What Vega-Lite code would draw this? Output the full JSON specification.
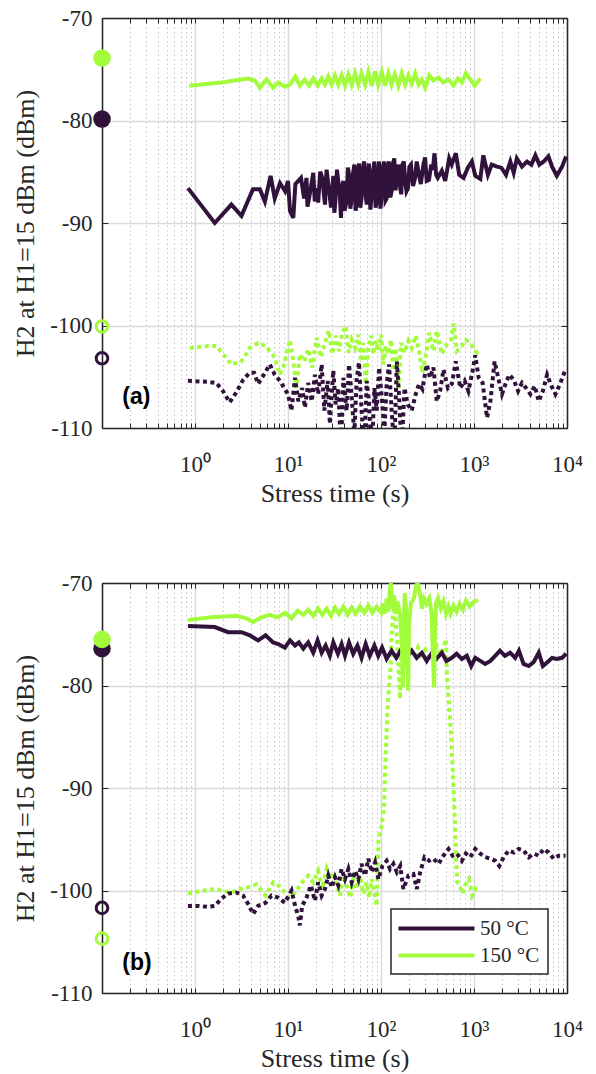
{
"$schema": "https://vega.github.io/schema/vega-lite/v6.json",
"padding": {"left": 12, "top": 7, "right": 10, "bottom": 5},
"spacing": 66,
"background": "white",
"config": {
 "view": {"stroke": null},
 "font": "Liberation Serif",
 "axis": {"labelFont": "Liberation Serif", "labelFontSize": 23, "labelColor": "#262626", "titleFont": "Liberation Serif", "titleFontSize": 26, "titleFontWeight": "normal", "titleColor": "#262626", "domainColor": "#262626", "domainWidth": 1.5, "tickColor": "#262626", "tickWidth": 1},
 "legend": {"strokeWidth": 1.5}
},
"resolve": {"legend": {"color": "independent"}},
"datasets": {
"pts": [
{"panel":"a","temp":"150 °C","fill":"filled","t":0.1,"v":-73.9},
{"panel":"a","temp":"50 °C","fill":"filled","t":0.1,"v":-79.85},
{"panel":"a","temp":"150 °C","fill":"hollow","t":0.1,"v":-100.1},
{"panel":"a","temp":"50 °C","fill":"hollow","t":0.1,"v":-103.2},
{"panel":"b","temp":"50 °C","fill":"filled","t":0.1,"v":-76.4},
{"panel":"b","temp":"150 °C","fill":"filled","t":0.1,"v":-75.5},
{"panel":"b","temp":"50 °C","fill":"hollow","t":0.1,"v":-101.7},
{"panel":"b","temp":"150 °C","fill":"hollow","t":0.1,"v":-104.7}
],
"lbl": [
{"panel":"a","t":0.165,"v":-107,"label":"(a)"},
{"panel":"b","t":0.165,"v":-107.1,"label":"(b)"}
],
"lines": [
{"panel":"a","temp":"150 °C","style":"dotted","t":0.88,"v":-102.2},
{"panel":"a","temp":"150 °C","style":"dotted","t":1.38,"v":-102.0},
{"panel":"a","temp":"150 °C","style":"dotted","t":1.7,"v":-102.0},
{"panel":"a","temp":"150 °C","style":"dotted","t":2.0,"v":-102.8},
{"panel":"a","temp":"150 °C","style":"dotted","t":2.46,"v":-103.8},
{"panel":"a","temp":"150 °C","style":"dotted","t":3.16,"v":-103.5},
{"panel":"a","temp":"150 °C","style":"dotted","t":3.88,"v":-102.2},
{"panel":"a","temp":"150 °C","style":"dotted","t":4.77,"v":-101.7},
{"panel":"a","temp":"150 °C","style":"dotted","t":5.73,"v":-102.0},
{"panel":"a","temp":"150 °C","style":"dotted","t":7.2,"v":-103.1},
{"panel":"a","temp":"150 °C","style":"dotted","t":8.2,"v":-104.8},
{"panel":"a","temp":"150 °C","style":"dotted","t":9.1,"v":-103.8},
{"panel":"a","temp":"150 °C","style":"dotted","t":10.5,"v":-101.4},
{"panel":"a","temp":"150 °C","style":"dotted","t":11.4,"v":-103.5},
{"panel":"a","temp":"150 °C","style":"dotted","t":12.3,"v":-106.1},
{"panel":"a","temp":"150 °C","style":"dotted","t":13.4,"v":-102.8},
{"panel":"a","temp":"150 °C","style":"dotted","t":15,"v":-103.5},
{"panel":"a","temp":"150 °C","style":"dotted","t":16.5,"v":-102.3},
{"panel":"a","temp":"150 °C","style":"dotted","t":18.2,"v":-104.1},
{"panel":"a","temp":"150 °C","style":"dotted","t":20.3,"v":-101.2},
{"panel":"a","temp":"150 °C","style":"dotted","t":22.6,"v":-103.1},
{"panel":"a","temp":"150 °C","style":"dotted","t":25,"v":-101.7},
{"panel":"a","temp":"150 °C","style":"dotted","t":27.5,"v":-100.5},
{"panel":"a","temp":"150 °C","style":"dotted","t":29.9,"v":-102.8},
{"panel":"a","temp":"150 °C","style":"dotted","t":32.5,"v":-101.0},
{"panel":"a","temp":"150 °C","style":"dotted","t":35.3,"v":-102.5},
{"panel":"a","temp":"150 °C","style":"dotted","t":38.4,"v":-100.7},
{"panel":"a","temp":"150 °C","style":"dotted","t":41.7,"v":-100.05},
{"panel":"a","temp":"150 °C","style":"dotted","t":44.6,"v":-102.65},
{"panel":"a","temp":"150 °C","style":"dotted","t":48.4,"v":-101.4},
{"panel":"a","temp":"150 °C","style":"dotted","t":52.6,"v":-102.2},
{"panel":"a","temp":"150 °C","style":"dotted","t":57,"v":-100.9},
{"panel":"a","temp":"150 °C","style":"dotted","t":61,"v":-103.5},
{"panel":"a","temp":"150 °C","style":"dotted","t":64.6,"v":-101.7},
{"panel":"a","temp":"150 °C","style":"dotted","t":68.4,"v":-105.7},
{"panel":"a","temp":"150 °C","style":"dotted","t":73.1,"v":-102.2},
{"panel":"a","temp":"150 °C","style":"dotted","t":78.2,"v":-101.0},
{"panel":"a","temp":"150 °C","style":"dotted","t":82.8,"v":-102.8},
{"panel":"a","temp":"150 °C","style":"dotted","t":87.8,"v":-101.5},
{"panel":"a","temp":"150 °C","style":"dotted","t":93.8,"v":-102.5},
{"panel":"a","temp":"150 °C","style":"dotted","t":100.4,"v":-100.9},
{"panel":"a","temp":"150 °C","style":"dotted","t":106,"v":-103.8},
{"panel":"a","temp":"150 °C","style":"dotted","t":112,"v":-102.0},
{"panel":"a","temp":"150 °C","style":"dotted","t":120,"v":-102.8},
{"panel":"a","temp":"150 °C","style":"dotted","t":128,"v":-101.4},
{"panel":"a","temp":"150 °C","style":"dotted","t":136,"v":-104.4},
{"panel":"a","temp":"150 °C","style":"dotted","t":144,"v":-102.2},
{"panel":"a","temp":"150 °C","style":"dotted","t":154,"v":-106.1},
{"panel":"a","temp":"150 °C","style":"dotted","t":164,"v":-101.7},
{"panel":"a","temp":"150 °C","style":"dotted","t":179,"v":-102.65},
{"panel":"a","temp":"150 °C","style":"dotted","t":197,"v":-101.5},
{"panel":"a","temp":"150 °C","style":"dotted","t":214,"v":-102.2},
{"panel":"a","temp":"150 °C","style":"dotted","t":236,"v":-101.0},
{"panel":"a","temp":"150 °C","style":"dotted","t":257,"v":-102.5},
{"panel":"a","temp":"150 °C","style":"dotted","t":279,"v":-104.6},
{"panel":"a","temp":"150 °C","style":"dotted","t":302,"v":-103.1},
{"panel":"a","temp":"150 °C","style":"dotted","t":329,"v":-100.7},
{"panel":"a","temp":"150 °C","style":"dotted","t":366,"v":-102.5},
{"panel":"a","temp":"150 °C","style":"dotted","t":398,"v":-100.5},
{"panel":"a","temp":"150 °C","style":"dotted","t":451,"v":-102.8},
{"panel":"a","temp":"150 °C","style":"dotted","t":511,"v":-101.8},
{"panel":"a","temp":"150 °C","style":"dotted","t":568,"v":-101.4},
{"panel":"a","temp":"150 °C","style":"dotted","t":602,"v":-99.8},
{"panel":"a","temp":"150 °C","style":"dotted","t":654,"v":-102.5},
{"panel":"a","temp":"150 °C","style":"dotted","t":741,"v":-102.0},
{"panel":"a","temp":"150 °C","style":"dotted","t":818,"v":-101.4},
{"panel":"a","temp":"150 °C","style":"dotted","t":933,"v":-101.8},
{"panel":"a","temp":"150 °C","style":"dotted","t":1075,"v":-102.65},
{"panel":"a","temp":"150 °C","style":"dotted","t":1169,"v":-102.3},
{"panel":"a","temp":"50 °C","style":"dotted","t":0.84,"v":-105.4},
{"panel":"a","temp":"50 °C","style":"dotted","t":1.38,"v":-105.5},
{"panel":"a","temp":"50 °C","style":"dotted","t":1.7,"v":-105.6},
{"panel":"a","temp":"50 °C","style":"dotted","t":2.0,"v":-106.4},
{"panel":"a","temp":"50 °C","style":"dotted","t":2.36,"v":-107.5},
{"panel":"a","temp":"50 °C","style":"dotted","t":2.79,"v":-106.5},
{"panel":"a","temp":"50 °C","style":"dotted","t":3.29,"v":-105.3},
{"panel":"a","temp":"50 °C","style":"dotted","t":3.88,"v":-104.6},
{"panel":"a","temp":"50 °C","style":"dotted","t":4.32,"v":-104.6},
{"panel":"a","temp":"50 °C","style":"dotted","t":4.77,"v":-105.7},
{"panel":"a","temp":"50 °C","style":"dotted","t":5.41,"v":-104.9},
{"panel":"a","temp":"50 °C","style":"dotted","t":6.38,"v":-103.8},
{"panel":"a","temp":"50 °C","style":"dotted","t":7.2,"v":-104.8},
{"panel":"a","temp":"50 °C","style":"dotted","t":8.2,"v":-105.4},
{"panel":"a","temp":"50 °C","style":"dotted","t":9.1,"v":-106.1},
{"panel":"a","temp":"50 °C","style":"dotted","t":10,"v":-106.7},
{"panel":"a","temp":"50 °C","style":"dotted","t":10.9,"v":-108.3},
{"panel":"a","temp":"50 °C","style":"dotted","t":11.9,"v":-105.1},
{"panel":"a","temp":"50 °C","style":"dotted","t":12.9,"v":-107.4},
{"panel":"a","temp":"50 °C","style":"dotted","t":14.2,"v":-106.1},
{"panel":"a","temp":"50 °C","style":"dotted","t":15.2,"v":-108.0},
{"panel":"a","temp":"50 °C","style":"dotted","t":16.5,"v":-105.6},
{"panel":"a","temp":"50 °C","style":"dotted","t":18,"v":-107.4},
{"panel":"a","temp":"50 °C","style":"dotted","t":19.5,"v":-104.8},
{"panel":"a","temp":"50 °C","style":"dotted","t":21.1,"v":-106.7},
{"panel":"a","temp":"50 °C","style":"dotted","t":23,"v":-103.8},
{"panel":"a","temp":"50 °C","style":"dotted","t":24.6,"v":-108.3},
{"panel":"a","temp":"50 °C","style":"dotted","t":26.7,"v":-105.4},
{"panel":"a","temp":"50 °C","style":"dotted","t":28.2,"v":-109.6},
{"panel":"a","temp":"50 °C","style":"dotted","t":30.7,"v":-104.4},
{"panel":"a","temp":"50 °C","style":"dotted","t":32.5,"v":-107.7},
{"panel":"a","temp":"50 °C","style":"dotted","t":34.7,"v":-106.1},
{"panel":"a","temp":"50 °C","style":"dotted","t":37.1,"v":-112.0},
{"panel":"a","temp":"50 °C","style":"dotted","t":39.4,"v":-105.1},
{"panel":"a","temp":"50 °C","style":"dotted","t":42.7,"v":-108.3},
{"panel":"a","temp":"50 °C","style":"dotted","t":45.3,"v":-103.8},
{"panel":"a","temp":"50 °C","style":"dotted","t":48.4,"v":-107.0},
{"panel":"a","temp":"50 °C","style":"dotted","t":51.7,"v":-110.6},
{"panel":"a","temp":"50 °C","style":"dotted","t":54.9,"v":-105.1},
{"panel":"a","temp":"50 °C","style":"dotted","t":58,"v":-103.6},
{"panel":"a","temp":"50 °C","style":"dotted","t":61.8,"v":-108.3},
{"panel":"a","temp":"50 °C","style":"dotted","t":66,"v":-112.0},
{"panel":"a","temp":"50 °C","style":"dotted","t":70.2,"v":-105.4},
{"panel":"a","temp":"50 °C","style":"dotted","t":74.2,"v":-107.4},
{"panel":"a","temp":"50 °C","style":"dotted","t":79.4,"v":-113.0},
{"panel":"a","temp":"50 °C","style":"dotted","t":84.9,"v":-106.1},
{"panel":"a","temp":"50 °C","style":"dotted","t":89.9,"v":-108.3},
{"panel":"a","temp":"50 °C","style":"dotted","t":95.4,"v":-104.1},
{"panel":"a","temp":"50 °C","style":"dotted","t":101.9,"v":-107.0},
{"panel":"a","temp":"50 °C","style":"dotted","t":108.9,"v":-110.3},
{"panel":"a","temp":"50 °C","style":"dotted","t":115,"v":-105.7},
{"panel":"a","temp":"50 °C","style":"dotted","t":122,"v":-103.8},
{"panel":"a","temp":"50 °C","style":"dotted","t":130,"v":-108.3},
{"panel":"a","temp":"50 °C","style":"dotted","t":139,"v":-112.0},
{"panel":"a","temp":"50 °C","style":"dotted","t":148,"v":-103.5},
{"panel":"a","temp":"50 °C","style":"dotted","t":156,"v":-106.7},
{"panel":"a","temp":"50 °C","style":"dotted","t":167,"v":-112.0},
{"panel":"a","temp":"50 °C","style":"dotted","t":179,"v":-106.1},
{"panel":"a","temp":"50 °C","style":"dotted","t":194,"v":-107.7},
{"panel":"a","temp":"50 °C","style":"dotted","t":214,"v":-108.3},
{"panel":"a","temp":"50 °C","style":"dotted","t":236,"v":-106.7},
{"panel":"a","temp":"50 °C","style":"dotted","t":257,"v":-105.7},
{"panel":"a","temp":"50 °C","style":"dotted","t":279,"v":-106.2},
{"panel":"a","temp":"50 °C","style":"dotted","t":310,"v":-103.8},
{"panel":"a","temp":"50 °C","style":"dotted","t":337,"v":-105.1},
{"panel":"a","temp":"50 °C","style":"dotted","t":366,"v":-104.1},
{"panel":"a","temp":"50 °C","style":"dotted","t":398,"v":-107.4},
{"panel":"a","temp":"50 °C","style":"dotted","t":432,"v":-106.4},
{"panel":"a","temp":"50 °C","style":"dotted","t":470,"v":-104.3},
{"panel":"a","temp":"50 °C","style":"dotted","t":525,"v":-106.1},
{"panel":"a","temp":"50 °C","style":"dotted","t":577,"v":-105.7},
{"panel":"a","temp":"50 °C","style":"dotted","t":638,"v":-103.5},
{"panel":"a","temp":"50 °C","style":"dotted","t":711,"v":-106.1},
{"panel":"a","temp":"50 °C","style":"dotted","t":793,"v":-105.4},
{"panel":"a","temp":"50 °C","style":"dotted","t":871,"v":-106.4},
{"panel":"a","temp":"50 °C","style":"dotted","t":967,"v":-104.4},
{"panel":"a","temp":"50 °C","style":"dotted","t":1032,"v":-102.9},
{"panel":"a","temp":"50 °C","style":"dotted","t":1122,"v":-105.1},
{"panel":"a","temp":"50 °C","style":"dotted","t":1239,"v":-105.6},
{"panel":"a","temp":"50 °C","style":"dotted","t":1380,"v":-109.0},
{"panel":"a","temp":"50 °C","style":"dotted","t":1500,"v":-107.4},
{"panel":"a","temp":"50 °C","style":"dotted","t":1665,"v":-103.5},
{"panel":"a","temp":"50 °C","style":"dotted","t":1820,"v":-105.1},
{"panel":"a","temp":"50 °C","style":"dotted","t":2000,"v":-106.7},
{"panel":"a","temp":"50 °C","style":"dotted","t":2200,"v":-105.6},
{"panel":"a","temp":"50 °C","style":"dotted","t":2400,"v":-104.8},
{"panel":"a","temp":"50 °C","style":"dotted","t":2672,"v":-105.3},
{"panel":"a","temp":"50 °C","style":"dotted","t":2980,"v":-106.4},
{"panel":"a","temp":"50 °C","style":"dotted","t":3280,"v":-105.6},
{"panel":"a","temp":"50 °C","style":"dotted","t":3630,"v":-106.1},
{"panel":"a","temp":"50 °C","style":"dotted","t":4040,"v":-106.7},
{"panel":"a","temp":"50 °C","style":"dotted","t":4500,"v":-105.9},
{"panel":"a","temp":"50 °C","style":"dotted","t":4970,"v":-107.4},
{"panel":"a","temp":"50 °C","style":"dotted","t":5500,"v":-106.4},
{"panel":"a","temp":"50 °C","style":"dotted","t":6110,"v":-104.8},
{"panel":"a","temp":"50 °C","style":"dotted","t":6800,"v":-105.9},
{"panel":"a","temp":"50 °C","style":"dotted","t":7510,"v":-106.7},
{"panel":"a","temp":"50 °C","style":"dotted","t":8500,"v":-105.6},
{"panel":"a","temp":"50 °C","style":"dotted","t":9620,"v":-104.3},
{"panel":"a","temp":"50 °C","style":"solid","t":0.84,"v":-86.6},
{"panel":"a","temp":"50 °C","style":"solid","t":1.63,"v":-90.0},
{"panel":"a","temp":"50 °C","style":"solid","t":2.46,"v":-88.2},
{"panel":"a","temp":"50 °C","style":"solid","t":3.16,"v":-89.3},
{"panel":"a","temp":"50 °C","style":"solid","t":4.2,"v":-86.7},
{"panel":"a","temp":"50 °C","style":"solid","t":4.98,"v":-86.7},
{"panel":"a","temp":"50 °C","style":"solid","t":5.64,"v":-87.9},
{"panel":"a","temp":"50 °C","style":"solid","t":6.5,"v":-85.4},
{"panel":"a","temp":"50 °C","style":"solid","t":7.2,"v":-87.6},
{"panel":"a","temp":"50 °C","style":"solid","t":8.2,"v":-86.1},
{"panel":"a","temp":"50 °C","style":"solid","t":9.3,"v":-86.9},
{"panel":"a","temp":"50 °C","style":"solid","t":10,"v":-85.9},
{"panel":"a","temp":"50 °C","style":"solid","t":10.5,"v":-88.8},
{"panel":"a","temp":"50 °C","style":"solid","t":11.4,"v":-89.5},
{"panel":"a","temp":"50 °C","style":"solid","t":12,"v":-86.2},
{"panel":"a","temp":"50 °C","style":"solid","t":13.8,"v":-85.6},
{"panel":"a","temp":"50 °C","style":"solid","t":14.9,"v":-87.6},
{"panel":"a","temp":"50 °C","style":"solid","t":15.8,"v":-85.6},
{"panel":"a","temp":"50 °C","style":"solid","t":16.2,"v":-88.4},
{"panel":"a","temp":"50 °C","style":"solid","t":17.2,"v":-87.1},
{"panel":"a","temp":"50 °C","style":"solid","t":18.7,"v":-85.1},
{"panel":"a","temp":"50 °C","style":"solid","t":19.4,"v":-87.9},
{"panel":"a","temp":"50 °C","style":"solid","t":20.3,"v":-86.6},
{"panel":"a","temp":"50 °C","style":"solid","t":21.1,"v":-88.0},
{"panel":"a","temp":"50 °C","style":"solid","t":22.2,"v":-85.0},
{"panel":"a","temp":"50 °C","style":"solid","t":23.4,"v":-85.6},
{"panel":"a","temp":"50 °C","style":"solid","t":24.2,"v":-87.0},
{"panel":"a","temp":"50 °C","style":"solid","t":25,"v":-88.2},
{"panel":"a","temp":"50 °C","style":"solid","t":26,"v":-84.8},
{"panel":"a","temp":"50 °C","style":"solid","t":27.1,"v":-86.2},
{"panel":"a","temp":"50 °C","style":"solid","t":28,"v":-87.2},
{"panel":"a","temp":"50 °C","style":"solid","t":29,"v":-88.5},
{"panel":"a","temp":"50 °C","style":"solid","t":30.7,"v":-85.4},
{"panel":"a","temp":"50 °C","style":"solid","t":31.5,"v":-89.0},
{"panel":"a","temp":"50 °C","style":"solid","t":32.5,"v":-87.6},
{"panel":"a","temp":"50 °C","style":"solid","t":33.6,"v":-84.8},
{"panel":"a","temp":"50 °C","style":"solid","t":34.7,"v":-85.9},
{"panel":"a","temp":"50 °C","style":"solid","t":36,"v":-87.0},
{"panel":"a","temp":"50 °C","style":"solid","t":37.1,"v":-89.5},
{"panel":"a","temp":"50 °C","style":"solid","t":38.2,"v":-86.5},
{"panel":"a","temp":"50 °C","style":"solid","t":39.4,"v":-85.9},
{"panel":"a","temp":"50 °C","style":"solid","t":40.5,"v":-88.8},
{"panel":"a","temp":"50 °C","style":"solid","t":42.7,"v":-87.9},
{"panel":"a","temp":"50 °C","style":"solid","t":44,"v":-84.6},
{"panel":"a","temp":"50 °C","style":"solid","t":45.3,"v":-85.3},
{"panel":"a","temp":"50 °C","style":"solid","t":46.8,"v":-88.6},
{"panel":"a","temp":"50 °C","style":"solid","t":48.4,"v":-87.6},
{"panel":"a","temp":"50 °C","style":"solid","t":50,"v":-85.2},
{"panel":"a","temp":"50 °C","style":"solid","t":51.7,"v":-84.3},
{"panel":"a","temp":"50 °C","style":"solid","t":53.3,"v":-88.8},
{"panel":"a","temp":"50 °C","style":"solid","t":54.9,"v":-87.9},
{"panel":"a","temp":"50 °C","style":"solid","t":56.4,"v":-85.0},
{"panel":"a","temp":"50 °C","style":"solid","t":58,"v":-84.2},
{"panel":"a","temp":"50 °C","style":"solid","t":59.9,"v":-88.5},
{"panel":"a","temp":"50 °C","style":"solid","t":61.8,"v":-87.6},
{"panel":"a","temp":"50 °C","style":"solid","t":63.9,"v":-84.6},
{"panel":"a","temp":"50 °C","style":"solid","t":66,"v":-84.0},
{"panel":"a","temp":"50 °C","style":"solid","t":68.1,"v":-87.0},
{"panel":"a","temp":"50 °C","style":"solid","t":70.2,"v":-88.2},
{"panel":"a","temp":"50 °C","style":"solid","t":72.2,"v":-85.0},
{"panel":"a","temp":"50 °C","style":"solid","t":74.2,"v":-84.2},
{"panel":"a","temp":"50 °C","style":"solid","t":76.8,"v":-88.7},
{"panel":"a","temp":"50 °C","style":"solid","t":79.4,"v":-87.3},
{"panel":"a","temp":"50 °C","style":"solid","t":82.1,"v":-85.0},
{"panel":"a","temp":"50 °C","style":"solid","t":84.9,"v":-84.0},
{"panel":"a","temp":"50 °C","style":"solid","t":87.4,"v":-88.5},
{"panel":"a","temp":"50 °C","style":"solid","t":89.9,"v":-87.9},
{"panel":"a","temp":"50 °C","style":"solid","t":92.6,"v":-85.2},
{"panel":"a","temp":"50 °C","style":"solid","t":95.4,"v":-84.0},
{"panel":"a","temp":"50 °C","style":"solid","t":98.6,"v":-88.6},
{"panel":"a","temp":"50 °C","style":"solid","t":101.9,"v":-87.3},
{"panel":"a","temp":"50 °C","style":"solid","t":105.4,"v":-84.5},
{"panel":"a","temp":"50 °C","style":"solid","t":108.9,"v":-84.0},
{"panel":"a","temp":"50 °C","style":"solid","t":111.9,"v":-87.8},
{"panel":"a","temp":"50 °C","style":"solid","t":115,"v":-87.6},
{"panel":"a","temp":"50 °C","style":"solid","t":118.5,"v":-84.6},
{"panel":"a","temp":"50 °C","style":"solid","t":122,"v":-84.0},
{"panel":"a","temp":"50 °C","style":"solid","t":126,"v":-87.5},
{"panel":"a","temp":"50 °C","style":"solid","t":130,"v":-86.9},
{"panel":"a","temp":"50 °C","style":"solid","t":134.5,"v":-84.2},
{"panel":"a","temp":"50 °C","style":"solid","t":139,"v":-83.7},
{"panel":"a","temp":"50 °C","style":"solid","t":143.5,"v":-86.8},
{"panel":"a","temp":"50 °C","style":"solid","t":148,"v":-85.6},
{"panel":"a","temp":"50 °C","style":"solid","t":154.5,"v":-84.3},
{"panel":"a","temp":"50 °C","style":"solid","t":161,"v":-86.6},
{"panel":"a","temp":"50 °C","style":"solid","t":165,"v":-87.2},
{"panel":"a","temp":"50 °C","style":"solid","t":170,"v":-84.3},
{"panel":"a","temp":"50 °C","style":"solid","t":176,"v":-84.0},
{"panel":"a","temp":"50 °C","style":"solid","t":182,"v":-85.9},
{"panel":"a","temp":"50 °C","style":"solid","t":188,"v":-86.9},
{"panel":"a","temp":"50 °C","style":"solid","t":195,"v":-86.6},
{"panel":"a","temp":"50 °C","style":"solid","t":202,"v":-84.5},
{"panel":"a","temp":"50 °C","style":"solid","t":210,"v":-84.3},
{"panel":"a","temp":"50 °C","style":"solid","t":221,"v":-86.4},
{"panel":"a","temp":"50 °C","style":"solid","t":233,"v":-85.6},
{"panel":"a","temp":"50 °C","style":"solid","t":242,"v":-84.0},
{"panel":"a","temp":"50 °C","style":"solid","t":252,"v":-84.9},
{"panel":"a","temp":"50 °C","style":"solid","t":268,"v":-86.2},
{"panel":"a","temp":"50 °C","style":"solid","t":286,"v":-84.3},
{"panel":"a","temp":"50 °C","style":"solid","t":298,"v":-83.6},
{"panel":"a","temp":"50 °C","style":"solid","t":310,"v":-85.9},
{"panel":"a","temp":"50 °C","style":"solid","t":328,"v":-85.8},
{"panel":"a","temp":"50 °C","style":"solid","t":347,"v":-84.3},
{"panel":"a","temp":"50 °C","style":"solid","t":361,"v":-84.8},
{"panel":"a","temp":"50 °C","style":"solid","t":376,"v":-83.2},
{"panel":"a","temp":"50 °C","style":"solid","t":392,"v":-85.3},
{"panel":"a","temp":"50 °C","style":"solid","t":408,"v":-85.6},
{"panel":"a","temp":"50 °C","style":"solid","t":451,"v":-84.9},
{"panel":"a","temp":"50 °C","style":"solid","t":490,"v":-85.9},
{"panel":"a","temp":"50 °C","style":"solid","t":541,"v":-83.7},
{"panel":"a","temp":"50 °C","style":"solid","t":576,"v":-84.3},
{"panel":"a","temp":"50 °C","style":"solid","t":638,"v":-83.2},
{"panel":"a","temp":"50 °C","style":"solid","t":693,"v":-85.3},
{"panel":"a","temp":"50 °C","style":"solid","t":772,"v":-85.6},
{"panel":"a","temp":"50 °C","style":"solid","t":859,"v":-84.6},
{"panel":"a","temp":"50 °C","style":"solid","t":949,"v":-84.0},
{"panel":"a","temp":"50 °C","style":"solid","t":1032,"v":-85.4},
{"panel":"a","temp":"50 °C","style":"solid","t":1169,"v":-85.7},
{"panel":"a","temp":"50 °C","style":"solid","t":1260,"v":-83.4},
{"panel":"a","temp":"50 °C","style":"solid","t":1410,"v":-85.3},
{"panel":"a","temp":"50 °C","style":"solid","t":1550,"v":-84.3},
{"panel":"a","temp":"50 °C","style":"solid","t":1766,"v":-84.5},
{"panel":"a","temp":"50 °C","style":"solid","t":1968,"v":-84.6},
{"panel":"a","temp":"50 °C","style":"solid","t":2208,"v":-85.3},
{"panel":"a","temp":"50 °C","style":"solid","t":2457,"v":-84.0},
{"panel":"a","temp":"50 °C","style":"solid","t":2672,"v":-85.1},
{"panel":"a","temp":"50 °C","style":"solid","t":2887,"v":-83.7},
{"panel":"a","temp":"50 °C","style":"solid","t":3280,"v":-84.5},
{"panel":"a","temp":"50 °C","style":"solid","t":3716,"v":-84.0},
{"panel":"a","temp":"50 °C","style":"solid","t":4140,"v":-84.3},
{"panel":"a","temp":"50 °C","style":"solid","t":4570,"v":-83.4},
{"panel":"a","temp":"50 °C","style":"solid","t":5050,"v":-84.3},
{"panel":"a","temp":"50 °C","style":"solid","t":5620,"v":-84.0},
{"panel":"a","temp":"50 °C","style":"solid","t":6310,"v":-83.5},
{"panel":"a","temp":"50 °C","style":"solid","t":6910,"v":-84.5},
{"panel":"a","temp":"50 °C","style":"solid","t":7770,"v":-85.4},
{"panel":"a","temp":"50 °C","style":"solid","t":8850,"v":-84.5},
{"panel":"a","temp":"50 °C","style":"solid","t":9780,"v":-83.5},
{"panel":"a","temp":"150 °C","style":"solid","t":0.87,"v":-76.6},
{"panel":"a","temp":"150 °C","style":"solid","t":1.92,"v":-76.3},
{"panel":"a","temp":"150 °C","style":"solid","t":3.72,"v":-75.9},
{"panel":"a","temp":"150 °C","style":"solid","t":4.4,"v":-76.1},
{"panel":"a","temp":"150 °C","style":"solid","t":4.98,"v":-76.8},
{"panel":"a","temp":"150 °C","style":"solid","t":5.87,"v":-76.0},
{"panel":"a","temp":"150 °C","style":"solid","t":6.92,"v":-76.8},
{"panel":"a","temp":"150 °C","style":"solid","t":7.84,"v":-76.3},
{"panel":"a","temp":"150 °C","style":"solid","t":9.26,"v":-76.7},
{"panel":"a","temp":"150 °C","style":"solid","t":10.5,"v":-76.5},
{"panel":"a","temp":"150 °C","style":"solid","t":12,"v":-75.7},
{"panel":"a","temp":"150 °C","style":"solid","t":13.4,"v":-76.6},
{"panel":"a","temp":"150 °C","style":"solid","t":15.1,"v":-76.0},
{"panel":"a","temp":"150 °C","style":"solid","t":16.8,"v":-76.6},
{"panel":"a","temp":"150 °C","style":"solid","t":18.7,"v":-75.9},
{"panel":"a","temp":"150 °C","style":"solid","t":20.8,"v":-76.6},
{"panel":"a","temp":"150 °C","style":"solid","t":23,"v":-75.9},
{"panel":"a","temp":"150 °C","style":"solid","t":25,"v":-76.5},
{"panel":"a","temp":"150 °C","style":"solid","t":27.1,"v":-75.7},
{"panel":"a","temp":"150 °C","style":"solid","t":29.5,"v":-76.5},
{"panel":"a","temp":"150 °C","style":"solid","t":32,"v":-75.6},
{"panel":"a","temp":"150 °C","style":"solid","t":34.7,"v":-76.5},
{"panel":"a","temp":"150 °C","style":"solid","t":37.7,"v":-75.6},
{"panel":"a","temp":"150 °C","style":"solid","t":41,"v":-76.6},
{"panel":"a","temp":"150 °C","style":"solid","t":44.6,"v":-75.5},
{"panel":"a","temp":"150 °C","style":"solid","t":48.4,"v":-76.5},
{"panel":"a","temp":"150 °C","style":"solid","t":52.6,"v":-75.4},
{"panel":"a","temp":"150 °C","style":"solid","t":57,"v":-76.5},
{"panel":"a","temp":"150 °C","style":"solid","t":61.8,"v":-75.4},
{"panel":"a","temp":"150 °C","style":"solid","t":67.4,"v":-76.5},
{"panel":"a","temp":"150 °C","style":"solid","t":73.1,"v":-75.3},
{"panel":"a","temp":"150 °C","style":"solid","t":79.4,"v":-76.6},
{"panel":"a","temp":"150 °C","style":"solid","t":86.4,"v":-75.2},
{"panel":"a","temp":"150 °C","style":"solid","t":93.4,"v":-76.5},
{"panel":"a","temp":"150 °C","style":"solid","t":101.9,"v":-75.3},
{"panel":"a","temp":"150 °C","style":"solid","t":110.7,"v":-76.6},
{"panel":"a","temp":"150 °C","style":"solid","t":120,"v":-75.4},
{"panel":"a","temp":"150 °C","style":"solid","t":130,"v":-76.5},
{"panel":"a","temp":"150 °C","style":"solid","t":141,"v":-75.5},
{"panel":"a","temp":"150 °C","style":"solid","t":154,"v":-76.6},
{"panel":"a","temp":"150 °C","style":"solid","t":167,"v":-75.4},
{"panel":"a","temp":"150 °C","style":"solid","t":182,"v":-76.5},
{"panel":"a","temp":"150 °C","style":"solid","t":197,"v":-75.6},
{"panel":"a","temp":"150 °C","style":"solid","t":214,"v":-76.4},
{"panel":"a","temp":"150 °C","style":"solid","t":233,"v":-75.4},
{"panel":"a","temp":"150 °C","style":"solid","t":253,"v":-76.5},
{"panel":"a","temp":"150 °C","style":"solid","t":275,"v":-76.0},
{"panel":"a","temp":"150 °C","style":"solid","t":299,"v":-76.8},
{"panel":"a","temp":"150 °C","style":"solid","t":330,"v":-75.6},
{"panel":"a","temp":"150 °C","style":"solid","t":367,"v":-76.1},
{"panel":"a","temp":"150 °C","style":"solid","t":415,"v":-75.8},
{"panel":"a","temp":"150 °C","style":"solid","t":468,"v":-76.3},
{"panel":"a","temp":"150 °C","style":"solid","t":532,"v":-76.0},
{"panel":"a","temp":"150 °C","style":"solid","t":603,"v":-76.6},
{"panel":"a","temp":"150 °C","style":"solid","t":671,"v":-75.9},
{"panel":"a","temp":"150 °C","style":"solid","t":741,"v":-76.3},
{"panel":"a","temp":"150 °C","style":"solid","t":818,"v":-75.4},
{"panel":"a","temp":"150 °C","style":"solid","t":912,"v":-76.0},
{"panel":"a","temp":"150 °C","style":"solid","t":1015,"v":-76.6},
{"panel":"a","temp":"150 °C","style":"solid","t":1169,"v":-75.9},
{"panel":"b","temp":"150 °C","style":"dotted","t":0.84,"v":-100.3},
{"panel":"b","temp":"150 °C","style":"dotted","t":1.08,"v":-100.1},
{"panel":"b","temp":"150 °C","style":"dotted","t":1.63,"v":-99.85},
{"panel":"b","temp":"150 °C","style":"dotted","t":2.46,"v":-100.2},
{"panel":"b","temp":"150 °C","style":"dotted","t":3.03,"v":-99.85},
{"panel":"b","temp":"150 °C","style":"dotted","t":3.72,"v":-99.7},
{"panel":"b","temp":"150 °C","style":"dotted","t":4.58,"v":-99.4},
{"panel":"b","temp":"150 °C","style":"dotted","t":5.73,"v":-100.5},
{"panel":"b","temp":"150 °C","style":"dotted","t":6.92,"v":-99.2},
{"panel":"b","temp":"150 °C","style":"dotted","t":8.5,"v":-99.7},
{"panel":"b","temp":"150 °C","style":"dotted","t":10,"v":-100.7},
{"panel":"b","temp":"150 °C","style":"dotted","t":11.9,"v":-100.2},
{"panel":"b","temp":"150 °C","style":"dotted","t":14.2,"v":-99.2},
{"panel":"b","temp":"150 °C","style":"dotted","t":16.5,"v":-98.55},
{"panel":"b","temp":"150 °C","style":"dotted","t":18.7,"v":-99.2},
{"panel":"b","temp":"150 °C","style":"dotted","t":21.1,"v":-98.1},
{"panel":"b","temp":"150 °C","style":"dotted","t":23.4,"v":-99.85},
{"panel":"b","temp":"150 °C","style":"dotted","t":26,"v":-97.9},
{"panel":"b","temp":"150 °C","style":"dotted","t":28.2,"v":-98.9},
{"panel":"b","temp":"150 °C","style":"dotted","t":30.7,"v":-98.2},
{"panel":"b","temp":"150 °C","style":"dotted","t":33.3,"v":-99.5},
{"panel":"b","temp":"150 °C","style":"dotted","t":36.3,"v":-100.5},
{"panel":"b","temp":"150 °C","style":"dotted","t":39.4,"v":-98.55},
{"panel":"b","temp":"150 °C","style":"dotted","t":42.7,"v":-99.5},
{"panel":"b","temp":"150 °C","style":"dotted","t":46.8,"v":-100.7},
{"panel":"b","temp":"150 °C","style":"dotted","t":50.2,"v":-98.9},
{"panel":"b","temp":"150 °C","style":"dotted","t":54.9,"v":-99.85},
{"panel":"b","temp":"150 °C","style":"dotted","t":59.5,"v":-98.55},
{"panel":"b","temp":"150 °C","style":"dotted","t":64.6,"v":-100.3},
{"panel":"b","temp":"150 °C","style":"dotted","t":70.2,"v":-99.2},
{"panel":"b","temp":"150 °C","style":"dotted","t":74.2,"v":-100.7},
{"panel":"b","temp":"150 °C","style":"dotted","t":79.4,"v":-98.9},
{"panel":"b","temp":"150 °C","style":"dotted","t":84.9,"v":-100.2},
{"panel":"b","temp":"150 °C","style":"dotted","t":89.9,"v":-101.5},
{"panel":"b","temp":"150 °C","style":"dotted","t":94,"v":-95.0},
{"panel":"b","temp":"150 °C","style":"dotted","t":100,"v":-94.0},
{"panel":"b","temp":"150 °C","style":"dotted","t":104,"v":-93.0},
{"panel":"b","temp":"150 °C","style":"dotted","t":108,"v":-91.8},
{"panel":"b","temp":"150 °C","style":"dotted","t":111,"v":-88.0},
{"panel":"b","temp":"150 °C","style":"dotted","t":114,"v":-85.2},
{"panel":"b","temp":"150 °C","style":"dotted","t":118,"v":-82.0},
{"panel":"b","temp":"150 °C","style":"dotted","t":122,"v":-80.0},
{"panel":"b","temp":"150 °C","style":"dotted","t":126,"v":-78.7},
{"panel":"b","temp":"150 °C","style":"dotted","t":130,"v":-75.0},
{"panel":"b","temp":"150 °C","style":"dotted","t":135,"v":-73.0},
{"panel":"b","temp":"150 °C","style":"dotted","t":140,"v":-72.0},
{"panel":"b","temp":"150 °C","style":"dotted","t":145,"v":-74.0},
{"panel":"b","temp":"150 °C","style":"dotted","t":150,"v":-76.0},
{"panel":"b","temp":"150 °C","style":"dotted","t":155,"v":-79.0},
{"panel":"b","temp":"150 °C","style":"dotted","t":160,"v":-81.3},
{"panel":"b","temp":"150 °C","style":"dotted","t":165,"v":-77.0},
{"panel":"b","temp":"150 °C","style":"dotted","t":170,"v":-74.0},
{"panel":"b","temp":"150 °C","style":"dotted","t":180,"v":-76.5},
{"panel":"b","temp":"150 °C","style":"dotted","t":195,"v":-77.0},
{"panel":"b","temp":"150 °C","style":"dotted","t":210,"v":-76.5},
{"panel":"b","temp":"150 °C","style":"dotted","t":230,"v":-77.2},
{"panel":"b","temp":"150 °C","style":"dotted","t":250,"v":-76.3},
{"panel":"b","temp":"150 °C","style":"dotted","t":270,"v":-77.0},
{"panel":"b","temp":"150 °C","style":"dotted","t":300,"v":-76.5},
{"panel":"b","temp":"150 °C","style":"dotted","t":330,"v":-77.4},
{"panel":"b","temp":"150 °C","style":"dotted","t":360,"v":-76.8},
{"panel":"b","temp":"150 °C","style":"dotted","t":400,"v":-76.2},
{"panel":"b","temp":"150 °C","style":"dotted","t":440,"v":-77.0},
{"panel":"b","temp":"150 °C","style":"dotted","t":480,"v":-76.0},
{"panel":"b","temp":"150 °C","style":"dotted","t":500,"v":-75.5},
{"panel":"b","temp":"150 °C","style":"dotted","t":510,"v":-78.7},
{"panel":"b","temp":"150 °C","style":"dotted","t":540,"v":-82.0},
{"panel":"b","temp":"150 °C","style":"dotted","t":570,"v":-85.2},
{"panel":"b","temp":"150 °C","style":"dotted","t":595,"v":-89.0},
{"panel":"b","temp":"150 °C","style":"dotted","t":615,"v":-91.8},
{"panel":"b","temp":"150 °C","style":"dotted","t":640,"v":-96.6},
{"panel":"b","temp":"150 °C","style":"dotted","t":660,"v":-99.2},
{"panel":"b","temp":"150 °C","style":"dotted","t":700,"v":-99.5},
{"panel":"b","temp":"150 °C","style":"dotted","t":750,"v":-100.3},
{"panel":"b","temp":"150 °C","style":"dotted","t":800,"v":-99.5},
{"panel":"b","temp":"150 °C","style":"dotted","t":880,"v":-98.9},
{"panel":"b","temp":"150 °C","style":"dotted","t":960,"v":-100.5},
{"panel":"b","temp":"150 °C","style":"dotted","t":1050,"v":-99.8},
{"panel":"b","temp":"150 °C","style":"dotted","t":1170,"v":-99.85},
{"panel":"b","temp":"50 °C","style":"dotted","t":0.84,"v":-101.5},
{"panel":"b","temp":"50 °C","style":"dotted","t":1.08,"v":-101.5},
{"panel":"b","temp":"50 °C","style":"dotted","t":1.38,"v":-101.6},
{"panel":"b","temp":"50 °C","style":"dotted","t":1.63,"v":-101.5},
{"panel":"b","temp":"50 °C","style":"dotted","t":1.92,"v":-100.8},
{"panel":"b","temp":"50 °C","style":"dotted","t":2.27,"v":-100.3},
{"panel":"b","temp":"50 °C","style":"dotted","t":2.79,"v":-100.2},
{"panel":"b","temp":"50 °C","style":"dotted","t":3.29,"v":-100.5},
{"panel":"b","temp":"50 °C","style":"dotted","t":3.72,"v":-101.3},
{"panel":"b","temp":"50 °C","style":"dotted","t":4.22,"v":-102.3},
{"panel":"b","temp":"50 °C","style":"dotted","t":4.77,"v":-101.5},
{"panel":"b","temp":"50 °C","style":"dotted","t":5.73,"v":-101.2},
{"panel":"b","temp":"50 °C","style":"dotted","t":6.65,"v":-100.5},
{"panel":"b","temp":"50 °C","style":"dotted","t":7.84,"v":-100.7},
{"panel":"b","temp":"50 °C","style":"dotted","t":9.26,"v":-101.2},
{"panel":"b","temp":"50 °C","style":"dotted","t":10.9,"v":-100.0},
{"panel":"b","temp":"50 °C","style":"dotted","t":12,"v":-101.6},
{"panel":"b","temp":"50 °C","style":"dotted","t":12.9,"v":-102.5},
{"panel":"b","temp":"50 °C","style":"dotted","t":13.4,"v":-103.4},
{"panel":"b","temp":"50 °C","style":"dotted","t":14.2,"v":-101.5},
{"panel":"b","temp":"50 °C","style":"dotted","t":15.8,"v":-100.7},
{"panel":"b","temp":"50 °C","style":"dotted","t":17.6,"v":-99.5},
{"panel":"b","temp":"50 °C","style":"dotted","t":19.5,"v":-101.0},
{"panel":"b","temp":"50 °C","style":"dotted","t":21.1,"v":-99.2},
{"panel":"b","temp":"50 °C","style":"dotted","t":23,"v":-100.5},
{"panel":"b","temp":"50 °C","style":"dotted","t":25,"v":-99.85},
{"panel":"b","temp":"50 °C","style":"dotted","t":27.1,"v":-98.55},
{"panel":"b","temp":"50 °C","style":"dotted","t":29.5,"v":-99.7},
{"panel":"b","temp":"50 °C","style":"dotted","t":32,"v":-98.7},
{"panel":"b","temp":"50 °C","style":"dotted","t":34.7,"v":-99.5},
{"panel":"b","temp":"50 °C","style":"dotted","t":37.7,"v":-97.9},
{"panel":"b","temp":"50 °C","style":"dotted","t":41,"v":-98.9},
{"panel":"b","temp":"50 °C","style":"dotted","t":44.6,"v":-97.9},
{"panel":"b","temp":"50 °C","style":"dotted","t":48.4,"v":-99.2},
{"panel":"b","temp":"50 °C","style":"dotted","t":52.6,"v":-98.1},
{"panel":"b","temp":"50 °C","style":"dotted","t":57,"v":-98.9},
{"panel":"b","temp":"50 °C","style":"dotted","t":61.8,"v":-97.4},
{"panel":"b","temp":"50 °C","style":"dotted","t":67.4,"v":-98.55},
{"panel":"b","temp":"50 °C","style":"dotted","t":73.1,"v":-96.9},
{"panel":"b","temp":"50 °C","style":"dotted","t":79.4,"v":-98.2},
{"panel":"b","temp":"50 °C","style":"dotted","t":86.4,"v":-97.25},
{"panel":"b","temp":"50 °C","style":"dotted","t":93.8,"v":-98.9},
{"panel":"b","temp":"50 °C","style":"dotted","t":103.5,"v":-97.6},
{"panel":"b","temp":"50 °C","style":"dotted","t":115,"v":-97.1},
{"panel":"b","temp":"50 °C","style":"dotted","t":125,"v":-97.9},
{"panel":"b","temp":"50 °C","style":"dotted","t":136,"v":-97.4},
{"panel":"b","temp":"50 °C","style":"dotted","t":148,"v":-98.2},
{"panel":"b","temp":"50 °C","style":"dotted","t":161,"v":-97.6},
{"panel":"b","temp":"50 °C","style":"dotted","t":174,"v":-99.85},
{"panel":"b","temp":"50 °C","style":"dotted","t":197,"v":-98.55},
{"panel":"b","temp":"50 °C","style":"dotted","t":223,"v":-98.4},
{"panel":"b","temp":"50 °C","style":"dotted","t":243,"v":-99.85},
{"panel":"b","temp":"50 °C","style":"dotted","t":264,"v":-98.2},
{"panel":"b","temp":"50 °C","style":"dotted","t":294,"v":-96.75},
{"panel":"b","temp":"50 °C","style":"dotted","t":330,"v":-97.1},
{"panel":"b","temp":"50 °C","style":"dotted","t":367,"v":-96.9},
{"panel":"b","temp":"50 °C","style":"dotted","t":415,"v":-97.4},
{"panel":"b","temp":"50 °C","style":"dotted","t":470,"v":-96.6},
{"panel":"b","temp":"50 °C","style":"dotted","t":532,"v":-95.95},
{"panel":"b","temp":"50 °C","style":"dotted","t":588,"v":-96.6},
{"panel":"b","temp":"50 °C","style":"dotted","t":654,"v":-96.4},
{"panel":"b","temp":"50 °C","style":"dotted","t":741,"v":-97.1},
{"panel":"b","temp":"50 °C","style":"dotted","t":818,"v":-96.4},
{"panel":"b","temp":"50 °C","style":"dotted","t":912,"v":-96.75},
{"panel":"b","temp":"50 °C","style":"dotted","t":1032,"v":-95.95},
{"panel":"b","temp":"50 °C","style":"dotted","t":1169,"v":-96.4},
{"panel":"b","temp":"50 °C","style":"dotted","t":1324,"v":-96.75},
{"panel":"b","temp":"50 °C","style":"dotted","t":1497,"v":-96.9},
{"panel":"b","temp":"50 °C","style":"dotted","t":1695,"v":-97.1},
{"panel":"b","temp":"50 °C","style":"dotted","t":1872,"v":-97.6},
{"panel":"b","temp":"50 °C","style":"dotted","t":2083,"v":-96.75},
{"panel":"b","temp":"50 °C","style":"dotted","t":2359,"v":-96.1},
{"panel":"b","temp":"50 °C","style":"dotted","t":2672,"v":-96.3},
{"panel":"b","temp":"50 °C","style":"dotted","t":3024,"v":-95.95},
{"panel":"b","temp":"50 °C","style":"dotted","t":3423,"v":-96.1},
{"panel":"b","temp":"50 °C","style":"dotted","t":3874,"v":-96.75},
{"panel":"b","temp":"50 °C","style":"dotted","t":4385,"v":-96.4},
{"panel":"b","temp":"50 °C","style":"dotted","t":4964,"v":-96.6},
{"panel":"b","temp":"50 °C","style":"dotted","t":5619,"v":-95.95},
{"panel":"b","temp":"50 °C","style":"dotted","t":6360,"v":-96.3},
{"panel":"b","temp":"50 °C","style":"dotted","t":7200,"v":-96.9},
{"panel":"b","temp":"50 °C","style":"dotted","t":8150,"v":-96.6},
{"panel":"b","temp":"50 °C","style":"dotted","t":9630,"v":-96.6},
{"panel":"b","temp":"50 °C","style":"solid","t":0.84,"v":-74.2},
{"panel":"b","temp":"50 °C","style":"solid","t":1.63,"v":-74.3},
{"panel":"b","temp":"50 °C","style":"solid","t":2.27,"v":-74.8},
{"panel":"b","temp":"50 °C","style":"solid","t":3.16,"v":-74.8},
{"panel":"b","temp":"50 °C","style":"solid","t":3.88,"v":-75.1},
{"panel":"b","temp":"50 °C","style":"solid","t":4.77,"v":-75.6},
{"panel":"b","temp":"50 °C","style":"solid","t":5.73,"v":-75.1},
{"panel":"b","temp":"50 °C","style":"solid","t":6.92,"v":-75.8},
{"panel":"b","temp":"50 °C","style":"solid","t":7.84,"v":-75.95},
{"panel":"b","temp":"50 °C","style":"solid","t":9.26,"v":-76.3},
{"panel":"b","temp":"50 °C","style":"solid","t":10.5,"v":-75.6},
{"panel":"b","temp":"50 °C","style":"solid","t":11.9,"v":-76.1},
{"panel":"b","temp":"50 °C","style":"solid","t":13.1,"v":-75.8},
{"panel":"b","temp":"50 °C","style":"solid","t":14.6,"v":-76.4},
{"panel":"b","temp":"50 °C","style":"solid","t":16.5,"v":-75.8},
{"panel":"b","temp":"50 °C","style":"solid","t":18.7,"v":-76.8},
{"panel":"b","temp":"50 °C","style":"solid","t":20.8,"v":-75.6},
{"panel":"b","temp":"50 °C","style":"solid","t":23,"v":-76.8},
{"panel":"b","temp":"50 °C","style":"solid","t":25.4,"v":-76.1},
{"panel":"b","temp":"50 °C","style":"solid","t":28.2,"v":-77.1},
{"panel":"b","temp":"50 °C","style":"solid","t":30.7,"v":-75.8},
{"panel":"b","temp":"50 °C","style":"solid","t":34.4,"v":-76.9},
{"panel":"b","temp":"50 °C","style":"solid","t":37.7,"v":-75.95},
{"panel":"b","temp":"50 °C","style":"solid","t":41,"v":-77.1},
{"panel":"b","temp":"50 °C","style":"solid","t":45.3,"v":-75.8},
{"panel":"b","temp":"50 °C","style":"solid","t":50.2,"v":-76.9},
{"panel":"b","temp":"50 °C","style":"solid","t":55.8,"v":-76.1},
{"panel":"b","temp":"50 °C","style":"solid","t":61.8,"v":-77.3},
{"panel":"b","temp":"50 °C","style":"solid","t":68.4,"v":-75.95},
{"panel":"b","temp":"50 °C","style":"solid","t":75.7,"v":-77.1},
{"panel":"b","temp":"50 °C","style":"solid","t":84.9,"v":-76.1},
{"panel":"b","temp":"50 °C","style":"solid","t":93.4,"v":-77.1},
{"panel":"b","temp":"50 °C","style":"solid","t":102.7,"v":-76.3},
{"panel":"b","temp":"50 °C","style":"solid","t":115,"v":-77.4},
{"panel":"b","temp":"50 °C","style":"solid","t":130,"v":-76.6},
{"panel":"b","temp":"50 °C","style":"solid","t":146,"v":-77.3},
{"panel":"b","temp":"50 °C","style":"solid","t":167,"v":-76.4},
{"panel":"b","temp":"50 °C","style":"solid","t":185,"v":-77.4},
{"panel":"b","temp":"50 °C","style":"solid","t":214,"v":-76.6},
{"panel":"b","temp":"50 °C","style":"solid","t":242,"v":-77.3},
{"panel":"b","temp":"50 °C","style":"solid","t":275,"v":-76.8},
{"panel":"b","temp":"50 °C","style":"solid","t":310,"v":-77.6},
{"panel":"b","temp":"50 °C","style":"solid","t":349,"v":-76.9},
{"panel":"b","temp":"50 °C","style":"solid","t":394,"v":-77.4},
{"panel":"b","temp":"50 °C","style":"solid","t":451,"v":-76.8},
{"panel":"b","temp":"50 °C","style":"solid","t":505,"v":-77.6},
{"panel":"b","temp":"50 °C","style":"solid","t":577,"v":-77.3},
{"panel":"b","temp":"50 °C","style":"solid","t":650,"v":-76.9},
{"panel":"b","temp":"50 °C","style":"solid","t":741,"v":-77.4},
{"panel":"b","temp":"50 °C","style":"solid","t":837,"v":-77.1},
{"panel":"b","temp":"50 °C","style":"solid","t":933,"v":-78.1},
{"panel":"b","temp":"50 °C","style":"solid","t":1032,"v":-77.3},
{"panel":"b","temp":"50 °C","style":"solid","t":1169,"v":-77.6},
{"panel":"b","temp":"50 °C","style":"solid","t":1320,"v":-77.9},
{"panel":"b","temp":"50 °C","style":"solid","t":1500,"v":-77.6},
{"panel":"b","temp":"50 °C","style":"solid","t":1690,"v":-77.1},
{"panel":"b","temp":"50 °C","style":"solid","t":1900,"v":-76.6},
{"panel":"b","temp":"50 °C","style":"solid","t":2150,"v":-77.1},
{"panel":"b","temp":"50 °C","style":"solid","t":2450,"v":-76.8},
{"panel":"b","temp":"50 °C","style":"solid","t":2770,"v":-77.3},
{"panel":"b","temp":"50 °C","style":"solid","t":3040,"v":-76.6},
{"panel":"b","temp":"50 °C","style":"solid","t":3410,"v":-77.9},
{"panel":"b","temp":"50 °C","style":"solid","t":3880,"v":-78.1},
{"panel":"b","temp":"50 °C","style":"solid","t":4390,"v":-77.7},
{"panel":"b","temp":"50 °C","style":"solid","t":4970,"v":-76.8},
{"panel":"b","temp":"50 °C","style":"solid","t":5500,"v":-78.1},
{"panel":"b","temp":"50 °C","style":"solid","t":6200,"v":-77.7},
{"panel":"b","temp":"50 °C","style":"solid","t":6910,"v":-77.3},
{"panel":"b","temp":"50 °C","style":"solid","t":7770,"v":-77.4},
{"panel":"b","temp":"50 °C","style":"solid","t":8850,"v":-77.3},
{"panel":"b","temp":"50 °C","style":"solid","t":9780,"v":-76.9},
{"panel":"b","temp":"150 °C","style":"solid","t":0.84,"v":-73.6},
{"panel":"b","temp":"150 °C","style":"solid","t":1.5,"v":-73.35},
{"panel":"b","temp":"150 °C","style":"solid","t":2.79,"v":-73.2},
{"panel":"b","temp":"150 °C","style":"solid","t":3.57,"v":-73.45},
{"panel":"b","temp":"150 °C","style":"solid","t":4.22,"v":-73.8},
{"panel":"b","temp":"150 °C","style":"solid","t":5.18,"v":-73.35},
{"panel":"b","temp":"150 °C","style":"solid","t":6.38,"v":-73.1},
{"panel":"b","temp":"150 °C","style":"solid","t":7.7,"v":-73.35},
{"panel":"b","temp":"150 °C","style":"solid","t":9.3,"v":-72.9},
{"panel":"b","temp":"150 °C","style":"solid","t":10.9,"v":-73.45},
{"panel":"b","temp":"150 °C","style":"solid","t":12.7,"v":-72.7},
{"panel":"b","temp":"150 °C","style":"solid","t":14.6,"v":-73.1},
{"panel":"b","temp":"150 °C","style":"solid","t":16.5,"v":-72.6},
{"panel":"b","temp":"150 °C","style":"solid","t":18.7,"v":-73.2},
{"panel":"b","temp":"150 °C","style":"solid","t":21.1,"v":-72.5},
{"panel":"b","temp":"150 °C","style":"solid","t":23.4,"v":-73.1},
{"panel":"b","temp":"150 °C","style":"solid","t":26,"v":-72.5},
{"panel":"b","temp":"150 °C","style":"solid","t":29,"v":-73.2},
{"panel":"b","temp":"150 °C","style":"solid","t":32,"v":-72.4},
{"panel":"b","temp":"150 °C","style":"solid","t":35.3,"v":-73.0},
{"panel":"b","temp":"150 °C","style":"solid","t":39.4,"v":-72.3},
{"panel":"b","temp":"150 °C","style":"solid","t":43.8,"v":-73.1},
{"panel":"b","temp":"150 °C","style":"solid","t":48.4,"v":-72.4},
{"panel":"b","temp":"150 °C","style":"solid","t":53.5,"v":-73.0},
{"panel":"b","temp":"150 °C","style":"solid","t":59.5,"v":-72.3},
{"panel":"b","temp":"150 °C","style":"solid","t":66,"v":-72.9},
{"panel":"b","temp":"150 °C","style":"solid","t":73.1,"v":-72.2},
{"panel":"b","temp":"150 °C","style":"solid","t":80.7,"v":-72.9},
{"panel":"b","temp":"150 °C","style":"solid","t":89.9,"v":-72.3},
{"panel":"b","temp":"150 °C","style":"solid","t":100.4,"v":-72.9},
{"panel":"b","temp":"150 °C","style":"solid","t":105,"v":-72.0},
{"panel":"b","temp":"150 °C","style":"solid","t":110,"v":-73.0},
{"panel":"b","temp":"150 °C","style":"solid","t":115,"v":-71.5},
{"panel":"b","temp":"150 °C","style":"solid","t":120,"v":-72.8},
{"panel":"b","temp":"150 °C","style":"solid","t":125,"v":-70.5},
{"panel":"b","temp":"150 °C","style":"solid","t":128,"v":-70.0},
{"panel":"b","temp":"150 °C","style":"solid","t":132,"v":-72.5},
{"panel":"b","temp":"150 °C","style":"solid","t":138,"v":-71.2},
{"panel":"b","temp":"150 °C","style":"solid","t":145,"v":-73.0},
{"panel":"b","temp":"150 °C","style":"solid","t":150,"v":-71.8},
{"panel":"b","temp":"150 °C","style":"solid","t":160,"v":-73.0},
{"panel":"b","temp":"150 °C","style":"solid","t":168,"v":-76.0},
{"panel":"b","temp":"150 °C","style":"solid","t":172,"v":-80.2},
{"panel":"b","temp":"150 °C","style":"solid","t":176,"v":-74.0},
{"panel":"b","temp":"150 °C","style":"solid","t":180,"v":-71.0},
{"panel":"b","temp":"150 °C","style":"solid","t":186,"v":-72.5},
{"panel":"b","temp":"150 °C","style":"solid","t":192,"v":-78.0},
{"panel":"b","temp":"150 °C","style":"solid","t":196,"v":-80.5},
{"panel":"b","temp":"150 °C","style":"solid","t":200,"v":-74.0},
{"panel":"b","temp":"150 °C","style":"solid","t":210,"v":-72.0},
{"panel":"b","temp":"150 °C","style":"solid","t":225,"v":-71.5},
{"panel":"b","temp":"150 °C","style":"solid","t":240,"v":-70.2},
{"panel":"b","temp":"150 °C","style":"solid","t":250,"v":-70.0},
{"panel":"b","temp":"150 °C","style":"solid","t":262,"v":-71.0},
{"panel":"b","temp":"150 °C","style":"solid","t":275,"v":-72.5},
{"panel":"b","temp":"150 °C","style":"solid","t":290,"v":-71.5},
{"panel":"b","temp":"150 °C","style":"solid","t":310,"v":-72.0},
{"panel":"b","temp":"150 °C","style":"solid","t":330,"v":-71.5},
{"panel":"b","temp":"150 °C","style":"solid","t":350,"v":-73.0},
{"panel":"b","temp":"150 °C","style":"solid","t":365,"v":-78.0},
{"panel":"b","temp":"150 °C","style":"solid","t":372,"v":-80.2},
{"panel":"b","temp":"150 °C","style":"solid","t":380,"v":-75.0},
{"panel":"b","temp":"150 °C","style":"solid","t":390,"v":-72.0},
{"panel":"b","temp":"150 °C","style":"solid","t":410,"v":-71.5},
{"panel":"b","temp":"150 °C","style":"solid","t":440,"v":-72.5},
{"panel":"b","temp":"150 °C","style":"solid","t":470,"v":-71.8},
{"panel":"b","temp":"150 °C","style":"solid","t":500,"v":-73.0},
{"panel":"b","temp":"150 °C","style":"solid","t":530,"v":-72.3},
{"panel":"b","temp":"150 °C","style":"solid","t":560,"v":-73.0},
{"panel":"b","temp":"150 °C","style":"solid","t":600,"v":-72.2},
{"panel":"b","temp":"150 °C","style":"solid","t":650,"v":-72.8},
{"panel":"b","temp":"150 °C","style":"solid","t":700,"v":-72.0},
{"panel":"b","temp":"150 °C","style":"solid","t":760,"v":-72.6},
{"panel":"b","temp":"150 °C","style":"solid","t":820,"v":-71.7},
{"panel":"b","temp":"150 °C","style":"solid","t":900,"v":-72.3},
{"panel":"b","temp":"150 °C","style":"solid","t":1000,"v":-71.8},
{"panel":"b","temp":"150 °C","style":"solid","t":1110,"v":-71.7}
]
},
"vconcat": [
{
"width": 465, "height": 410,
"resolve": {"axis": {"x": "independent", "y": "independent"}},
"layer": [
{"data": {"name": "lines"}, "transform": [{"filter": "datum.panel == 'a' && datum.style == 'dotted'"}],
 "mark": {"type": "line", "clip": true, "strokeWidth": 4, "strokeDash": [4, 3.5]},
 "encoding": {
  "x": {"field": "t", "type": "quantitative", "scale": {"type": "log", "domain": [0.1, 10000], "nice": false},
   "axis": {"orient": "bottom", "values": [0.1,0.2,0.3,0.4,0.5,0.6,0.7,0.8,0.9,1,2,3,4,5,6,7,8,9,10,20,30,40,50,60,70,80,90,100,200,300,400,500,600,700,800,900,1000,2000,3000,4000,5000,6000,7000,8000,9000,10000],
    "labelExpr": "datum.value >= 0.99 && abs(log(datum.value)/LN10 - round(log(datum.value)/LN10)) < 0.01 ? '10' + ['⁰','¹','²','³','⁴'][round(log(datum.value)/LN10)] : ''",
    "grid": true,
    "gridColor": {"condition": {"test": "abs(log(datum.value)/LN10 - round(log(datum.value)/LN10)) > 0.01", "value": "#c4c4c4"}, "value": "#dadada"},
    "gridDash": {"condition": {"test": "abs(log(datum.value)/LN10 - round(log(datum.value)/LN10)) > 0.01", "value": [1.5, 3]}, "value": []},
    "gridWidth": {"condition": {"test": "abs(log(datum.value)/LN10 - round(log(datum.value)/LN10)) > 0.01", "value": 1}, "value": 1.5},
    "tickSize": -5, "labelPadding": 30,
    "labelOverlap": false, "labelFlush": false, "labelBound": false,
    "title": "Stress time (s)", "titlePadding": 4}},
  "y": {"field": "v", "type": "quantitative", "scale": {"domain": [-110, -70], "nice": false, "zero": false},
   "axis": {"orient": "left", "values": [-110,-100,-90,-80,-70], "labelExpr": "'-' + abs(datum.value)",
    "grid": true, "gridColor": "#dadada", "gridWidth": 1.5,
    "tickSize": -6, "labelPadding": 16,
    "title": "H2 at H1=15 dBm (dBm)", "titlePadding": 11}},
  "color": {"field": "temp", "type": "nominal", "scale": {"domain": ["50 °C", "150 °C"], "range": ["#30123b", "#a2fc3c"]}, "legend": null}
 }},
{"data": {"name": "lines"}, "transform": [{"filter": "datum.panel == 'a' && datum.style == 'solid'"}],
 "mark": {"type": "line", "clip": true, "strokeWidth": 4},
 "encoding": {
  "x": {"field": "t", "type": "quantitative", "scale": {"type": "log", "domain": [0.1, 10000], "nice": false},
   "axis": {"orient": "top", "values": [0.1,0.2,0.3,0.4,0.5,0.6,0.7,0.8,0.9,1,2,3,4,5,6,7,8,9,10,20,30,40,50,60,70,80,90,100,200,300,400,500,600,700,800,900,1000,2000,3000,4000,5000,6000,7000,8000,9000,10000],
    "labels": false, "grid": false, "tickSize": -5, "title": null}},
  "y": {"field": "v", "type": "quantitative", "scale": {"domain": [-110, -70], "nice": false, "zero": false},
   "axis": {"orient": "right", "values": [-110,-100,-90,-80,-70], "labels": false, "grid": false, "tickSize": -6, "title": null}},
  "color": {"field": "temp", "type": "nominal", "scale": {"domain": ["50 °C", "150 °C"], "range": ["#30123b", "#a2fc3c"]}, "legend": null}
 }},
{"data": {"name": "pts"}, "transform": [{"filter": "datum.panel == 'a' && datum.fill == 'filled'"}],
 "mark": {"type": "point", "shape": "circle", "filled": true, "size": 310, "opacity": 1},
 "encoding": {
  "x": {"field": "t", "type": "quantitative", "axis": null},
  "y": {"field": "v", "type": "quantitative", "axis": null},
  "color": {"field": "temp", "type": "nominal", "legend": null}
 }},
{"data": {"name": "pts"}, "transform": [{"filter": "datum.panel == 'a' && datum.fill == 'hollow'"}],
 "mark": {"type": "point", "shape": "circle", "filled": false, "size": 135, "strokeWidth": 3, "opacity": 1},
 "encoding": {
  "x": {"field": "t", "type": "quantitative", "axis": null},
  "y": {"field": "v", "type": "quantitative", "axis": null},
  "color": {"field": "temp", "type": "nominal", "legend": null}
 }},
{"data": {"name": "lbl"}, "transform": [{"filter": "datum.panel == 'a'"}],
 "mark": {"type": "text", "align": "left", "baseline": "middle", "font": "Liberation Sans", "fontWeight": "bold", "fontSize": 23, "color": "#000000"},
 "encoding": {
  "x": {"field": "t", "type": "quantitative", "axis": null},
  "y": {"field": "v", "type": "quantitative", "axis": null},
  "text": {"field": "label"}
 }}
]
},
{
"width": 465, "height": 410,
"resolve": {"axis": {"x": "independent", "y": "independent"}},
"layer": [
{"data": {"name": "lines"}, "transform": [{"filter": "datum.panel == 'b' && datum.style == 'dotted'"}],
 "mark": {"type": "line", "clip": true, "strokeWidth": 4, "strokeDash": [4, 3.5]},
 "encoding": {
  "x": {"field": "t", "type": "quantitative", "scale": {"type": "log", "domain": [0.1, 10000], "nice": false},
   "axis": {"orient": "bottom", "values": [0.1,0.2,0.3,0.4,0.5,0.6,0.7,0.8,0.9,1,2,3,4,5,6,7,8,9,10,20,30,40,50,60,70,80,90,100,200,300,400,500,600,700,800,900,1000,2000,3000,4000,5000,6000,7000,8000,9000,10000],
    "labelExpr": "datum.value >= 0.99 && abs(log(datum.value)/LN10 - round(log(datum.value)/LN10)) < 0.01 ? '10' + ['⁰','¹','²','³','⁴'][round(log(datum.value)/LN10)] : ''",
    "grid": true,
    "gridColor": {"condition": {"test": "abs(log(datum.value)/LN10 - round(log(datum.value)/LN10)) > 0.01", "value": "#c4c4c4"}, "value": "#dadada"},
    "gridDash": {"condition": {"test": "abs(log(datum.value)/LN10 - round(log(datum.value)/LN10)) > 0.01", "value": [1.5, 3]}, "value": []},
    "gridWidth": {"condition": {"test": "abs(log(datum.value)/LN10 - round(log(datum.value)/LN10)) > 0.01", "value": 1}, "value": 1.5},
    "tickSize": -5, "labelPadding": 30,
    "labelOverlap": false, "labelFlush": false, "labelBound": false,
    "title": "Stress time (s)", "titlePadding": 4}},
  "y": {"field": "v", "type": "quantitative", "scale": {"domain": [-110, -70], "nice": false, "zero": false},
   "axis": {"orient": "left", "values": [-110,-100,-90,-80,-70], "labelExpr": "'-' + abs(datum.value)",
    "grid": true, "gridColor": "#dadada", "gridWidth": 1.5,
    "tickSize": -6, "labelPadding": 16,
    "title": "H2 at H1=15 dBm (dBm)", "titlePadding": 11}},
  "color": {"field": "temp", "type": "nominal", "scale": {"domain": ["50 °C", "150 °C"], "range": ["#30123b", "#a2fc3c"]},
   "legend": {"orient": "bottom-right", "offset": 19, "title": null, "symbolType": "M-4,0H4", "symbolSize": 361, "symbolStrokeWidth": 4, "symbolDash": [1, 0], "symbolOffset": 26,
    "labelFont": "Liberation Serif", "labelFontSize": 21, "labelColor": "#262626", "labelOffset": 32, "strokeColor": "#262626", "fillColor": "white", "padding": 8, "rowPadding": 5}}
 }},
{"data": {"name": "lines"}, "transform": [{"filter": "datum.panel == 'b' && datum.style == 'solid'"}],
 "mark": {"type": "line", "clip": true, "strokeWidth": 4},
 "encoding": {
  "x": {"field": "t", "type": "quantitative", "scale": {"type": "log", "domain": [0.1, 10000], "nice": false},
   "axis": {"orient": "top", "values": [0.1,0.2,0.3,0.4,0.5,0.6,0.7,0.8,0.9,1,2,3,4,5,6,7,8,9,10,20,30,40,50,60,70,80,90,100,200,300,400,500,600,700,800,900,1000,2000,3000,4000,5000,6000,7000,8000,9000,10000],
    "labels": false, "grid": false, "tickSize": -5, "title": null}},
  "y": {"field": "v", "type": "quantitative", "scale": {"domain": [-110, -70], "nice": false, "zero": false},
   "axis": {"orient": "right", "values": [-110,-100,-90,-80,-70], "labels": false, "grid": false, "tickSize": -6, "title": null}},
  "color": {"field": "temp", "type": "nominal", "scale": {"domain": ["50 °C", "150 °C"], "range": ["#30123b", "#a2fc3c"]}}
 }},
{"data": {"name": "pts"}, "transform": [{"filter": "datum.panel == 'b' && datum.fill == 'filled'"}],
 "mark": {"type": "point", "shape": "circle", "filled": true, "size": 310, "opacity": 1},
 "encoding": {
  "x": {"field": "t", "type": "quantitative", "axis": null},
  "y": {"field": "v", "type": "quantitative", "axis": null},
  "color": {"field": "temp", "type": "nominal"}
 }},
{"data": {"name": "pts"}, "transform": [{"filter": "datum.panel == 'b' && datum.fill == 'hollow'"}],
 "mark": {"type": "point", "shape": "circle", "filled": false, "size": 135, "strokeWidth": 3, "opacity": 1},
 "encoding": {
  "x": {"field": "t", "type": "quantitative", "axis": null},
  "y": {"field": "v", "type": "quantitative", "axis": null},
  "color": {"field": "temp", "type": "nominal"}
 }},
{"data": {"name": "lbl"}, "transform": [{"filter": "datum.panel == 'b'"}],
 "mark": {"type": "text", "align": "left", "baseline": "middle", "font": "Liberation Sans", "fontWeight": "bold", "fontSize": 23, "color": "#000000"},
 "encoding": {
  "x": {"field": "t", "type": "quantitative", "axis": null},
  "y": {"field": "v", "type": "quantitative", "axis": null},
  "text": {"field": "label"}
 }}
]
}
]
}
